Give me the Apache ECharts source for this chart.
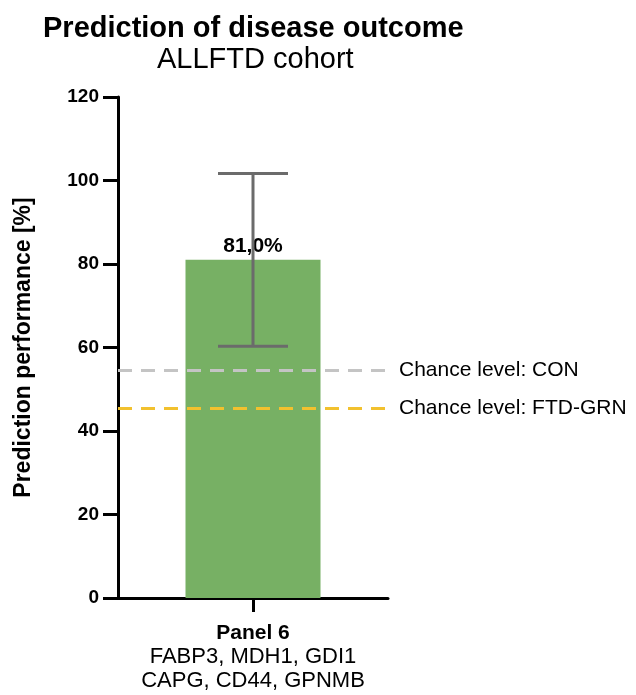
<!DOCTYPE html>
<html>
<head>
<meta charset="utf-8">
<style>
  html, body { margin: 0; padding: 0; background: #fff; }
  #chart { width: 636px; height: 695px; }
</style>
<script src="https://cdn.jsdelivr.net/npm/echarts@6/dist/echarts.min.js"></script>
</head>
<body>
<div id="chart"></div>
<script>
// Panel performance data
const categories = ['Panel 6'];
const panelProteins = ['FABP3, MDH1, GDI1', 'CAPG, CD44, GPNMB'];
const performance = [81.0];
const errorSD = [20.7];
const chanceLevels = [
  { name: 'Chance level: CON', value: 54.6, color: '#c4c4c4' },
  { name: 'Chance level: FTD-GRN', value: 45.5, color: '#f2c12e' }
];
const yTicks = [0, 20, 40, 60, 80, 100, 120];

const FONT = '"Liberation Sans", Arial, Helvetica, sans-serif';
const chart = echarts.init(document.getElementById('chart'));

const option = {
  backgroundColor: '#ffffff',
  animation: false,
  textStyle: { fontFamily: FONT },
  title: [
    {
      text: 'Prediction of disease outcome',
      left: 38, top: 9,
      textStyle: { fontFamily: FONT, fontSize: 29, fontWeight: 'bold', color: '#000' }
    },
    {
      text: 'ALLFTD cohort',
      left: 152, top: 40,
      textStyle: { fontFamily: FONT, fontSize: 29, fontWeight: 'normal', color: '#000' }
    }
  ],
  grid: { left: 118, right: 248, top: 97, bottom: 97, containLabel: false },
  xAxis: {
    type: 'category',
    data: categories,
    axisLine: { lineStyle: { color: '#000', width: 3 } },
    axisTick: { show: true, alignWithLabel: true, length: 14, lineStyle: { color: '#000', width: 3 } },
    axisLabel: {
      margin: 23,
      color: '#000',
      formatter: v => '{b|' + v + '}\n' + panelProteins.map(p => '{n|' + p + '}').join('\n'),
      rich: {
        b: { fontFamily: FONT, fontSize: 21, fontWeight: 'bold', color: '#000', lineHeight: 24 },
        n: { fontFamily: FONT, fontSize: 22, color: '#000', lineHeight: 24 }
      }
    }
  },
  yAxis: {
    type: 'value',
    min: yTicks[0],
    max: yTicks[yTicks.length - 1],
    interval: 20,
    name: 'Prediction performance [%]',
    nameLocation: 'middle',
    nameGap: 83,
    nameTextStyle: { fontFamily: FONT, fontSize: 23, fontWeight: 'bold', color: '#000' },
    axisLine: { show: true, lineStyle: { color: '#000', width: 3 } },
    axisTick: { show: true, length: 15, lineStyle: { color: '#000', width: 3 } },
    axisLabel: { fontFamily: FONT, fontSize: 19, fontWeight: 'bold', color: '#000', margin: 19 },
    splitLine: { show: false }
  },
  series: [
    {
      type: 'bar',
      data: performance,
      barWidth: '50%',
      itemStyle: { color: '#77b064' },
      label: {
        show: true,
        position: 'top',
        distance: 3,
        formatter: p => p.value.toFixed(1).replace('.', ',') + '%',
        fontFamily: FONT, fontSize: 21, fontWeight: 'bold', color: '#000'
      },
      markLine: {
        symbol: 'none',
        silent: true,
        data: chanceLevels.map(c => ({
          yAxis: c.value,
          lineStyle: { color: c.color, type: [14, 9], width: 3 },
          label: {
            show: true, position: 'end', distance: 11,
            formatter: c.name,
            fontFamily: FONT, fontSize: 21, color: '#000'
          }
        }))
      },
      z: 2
    },
    {
      type: 'custom',
      z: 5,
      data: performance.map((v, i) => [i, v - errorSD[i], v + errorSD[i]]),
      renderItem: (params, api) => {
        const lo = api.coord([api.value(0), api.value(1)]);
        const hi = api.coord([api.value(0), api.value(2)]);
        const half = 35;
        const style = { stroke: '#6b6b6b', lineWidth: 3 };
        return {
          type: 'group',
          children: [
            { type: 'line', shape: { x1: lo[0], y1: lo[1], x2: hi[0], y2: hi[1] }, style },
            { type: 'line', shape: { x1: hi[0] - half, y1: hi[1], x2: hi[0] + half, y2: hi[1] }, style },
            { type: 'line', shape: { x1: lo[0] - half, y1: lo[1], x2: lo[0] + half, y2: lo[1] }, style }
          ]
        };
      }
    }
  ]
};

chart.setOption(option);
</script>
</body>
</html>
